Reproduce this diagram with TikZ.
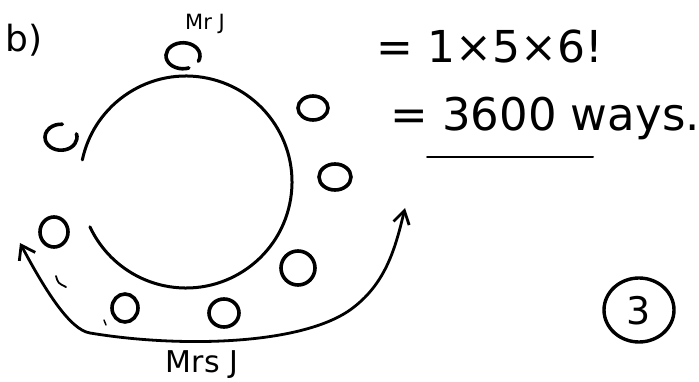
\documentclass[tikz,border=0pt]{standalone}
\usepackage{fontspec}
\setmainfont{DejaVu Sans}
\usetikzlibrary{arrows.meta}
\begin{document}
\begin{tikzpicture}[x=1pt,y=-1pt,
  ink/.style={line width=3.4pt,line cap=round,black},
  seat/.style={ink,line width=3.6pt},
  hand/.style={inner sep=0pt,anchor=center}]
\useasboundingbox (0,0) rectangle (699,382);
% table
\draw[ink,line width=3pt] (186,182) ++(192:106) arc[start angle=192,end angle=515,radius=106];
% seats
\draw[seat] (183,52) ++(70:17) arc[start angle=70,end angle=385,x radius=17,y radius=13];
\draw[seat] (61,138) ++(-15:16) arc[start angle=-15,end angle=275,x radius=16,y radius=13];
\draw[seat] (313,108) ellipse[x radius=15,y radius=12];
\draw[seat] (335,177) ellipse[x radius=16,y radius=13];
\draw[seat] (298,268) ellipse[x radius=17,y radius=17];
\draw[seat] (224,313) ellipse[x radius=15,y radius=14];
\draw[seat] (125,308) ellipse[x radius=13,y radius=14];
\draw[seat] (54,232) ellipse[x radius=14,y radius=15];
% stray marks
\draw[ink,line width=1.8pt] (56,276) .. controls (58,283) .. (66,287);
\draw[ink,line width=1.4pt] (104,320) -- (106,325);
% arrow
\coordinate (la) at (20,243);
\coordinate (ra) at (405,208);
\draw[ink,line width=2.8pt,{Straight Barb[length=13pt,width=18pt]}-{Straight Barb[length=13pt,width=16pt]}]
  (la) .. controls (45,290) and (70,330) .. (90,333)
  .. controls (180,348) and (300,345) .. (350,310)
  .. controls (385,285) and (395,250) .. (ra);
% labels
\node[hand,font=\fontsize{21}{21}\selectfont] (mrj) at (205,24) {Mr J};
\node[hand,font=\fontsize{30}{30}\selectfont] (mrsj) at (202,365) {Mrs J};
\node[hand,font=\fontsize{36}{36}\selectfont] (b) at (24,40) {b)};
\node[hand,font=\fontsize{44}{44}\selectfont] (eq1) at (490,46) {= 1×5×6!};
\node[hand,font=\fontsize{45}{45}\selectfont] (eq2) at (545,118) {= 3600 ways.};
\draw[ink,line width=2pt] (427,157) -- (593,157);
\node[hand,font=\fontsize{38}{38}\selectfont] (three) at (639,311) {3};
\draw[ink] (639,310) ellipse[x radius=35,y radius=32];
\end{tikzpicture}
\end{document}
